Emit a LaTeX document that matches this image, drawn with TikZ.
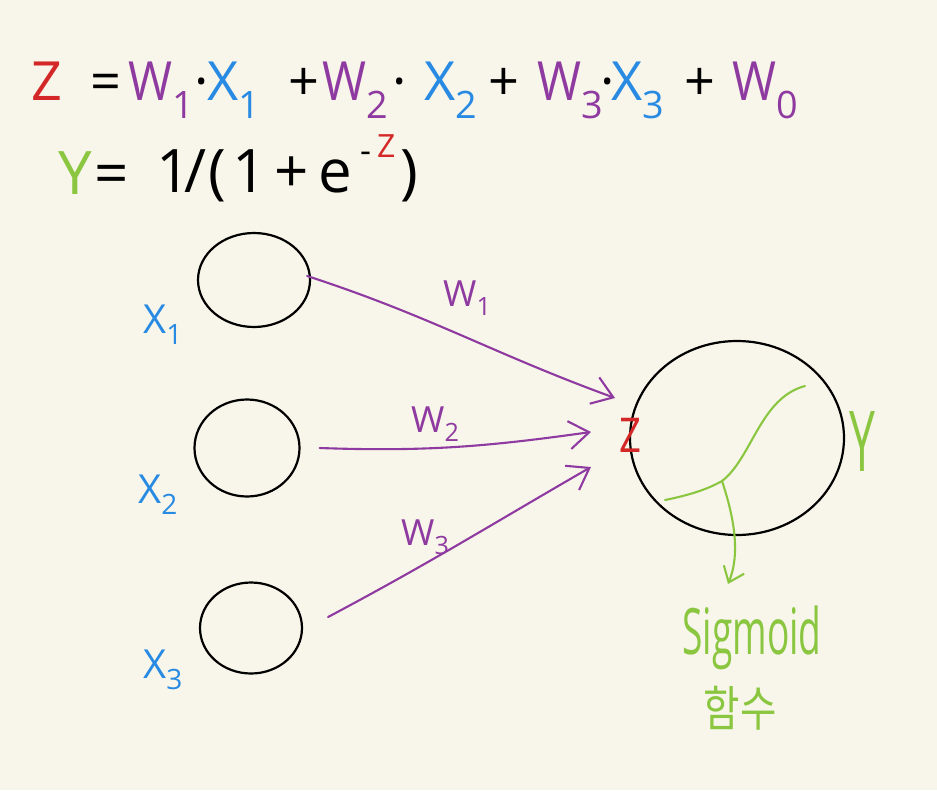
\documentclass[tikz,border=0pt]{standalone}
\usepackage{fontspec}
\setmainfont{Open Sans}
\newfontfamily\kfont{Noto Sans CJK KR}
\usetikzlibrary{shapes.geometric,arrows.meta}
\definecolor{bg}{RGB}{248,246,234}
\definecolor{zred}{RGB}{212,40,40}
\definecolor{wpur}{RGB}{142,58,160}
\definecolor{xblue}{RGB}{40,138,226}
\definecolor{ygreen}{RGB}{138,198,64}
\newcommand{\nW}{\scalebox{0.88}[1]{W}}
\begin{document}
\begin{tikzpicture}[x=1pt,y=-1pt,
  neuron/.style={ellipse,draw=black,line width=2.2pt,inner sep=0pt},
  wire/.style={draw=wpur,line width=2.1pt,line cap=round,
    -{Straight Barb[length=20pt,width=28pt,line width=2.1pt]}},
  greenline/.style={draw=ygreen,line width=2.1pt,line cap=round},
  fa/.style={font=\fontsize{54}{58}\selectfont,inner sep=0pt,anchor=base west},
  fb/.style={font=\fontsize{60}{64}\selectfont,inner sep=0pt,anchor=base west},
  lbl/.style={font=\fontsize{40}{44}\selectfont,inner sep=0pt,anchor=base west,text=xblue},
  wlbl/.style={font=\fontsize{36}{40}\selectfont,inner sep=0pt,anchor=base west,text=wpur}]
\fill[bg] (0,0) rectangle (937,790);
\useasboundingbox (0,0) rectangle (937,790);

% formula 1
\node[fa,text=zred] (a1) at (31,100) {Z};
\node[fa] (a2) at (90,100) {=};
\node[fa,text=wpur] (a3) at (128,100) {\nW\textsubscript{1}};
\node[fa] (a4) at (194,100) {·};
\node[fa,text=xblue] (a5) at (207,100) {X\textsubscript{1}};
\node[fa] (a6) at (288,100) {+};
\node[fa,text=wpur] (a7) at (322,100) {\nW\textsubscript{2}};
\node[fa] (a8) at (392,100) {·};
\node[fa,text=xblue] (a9) at (424,100) {X\textsubscript{2}};
\node[fa] (a10) at (488,100) {+};
\node[fa,text=wpur] (a11) at (537,100) {\nW\textsubscript{3}};
\node[fa] (a12) at (600,100) {·};
\node[fa,text=xblue] (a13) at (611,100) {X\textsubscript{3}};
\node[fa] (a14) at (684,100) {+};
\node[fa,text=wpur] (a15) at (732,100) {\nW\textsubscript{0}};

% formula 2
\node[fb,text=ygreen] (b1) at (58,194) {Y};
\node[fb] (b2) at (94,194) {=};
\node[fb] (b3) at (156,192) {1};
\node[fb] (b4) at (184,192) {/};
\node[fb] (b5) at (208,192) {(};
\node[fb] (b6) at (232,192) {1};
\node[fb] (b7) at (274,192) {+};
\node[fb] (b8) at (318,192) {e};
\node[font=\fontsize{34}{38}\selectfont,inner sep=0pt,anchor=base west] (b9) at (360,162) {-};
\node[font=\fontsize{32}{36}\selectfont,inner sep=0pt,anchor=base west,text=zred] (b10) at (377,157) {Z};
\node[fb] (b11) at (400,192) {)};

% input neurons
\node[neuron,minimum width=112pt,minimum height=94pt] (x1) at (254,280) {};
\node[neuron,minimum width=105pt,minimum height=97pt] (x2) at (247,448) {};
\node[neuron,minimum width=102pt,minimum height=91pt] (x3) at (251,628) {};
% output neuron
\node[neuron,minimum width=214pt,minimum height=194pt] (out) at (737,438) {};

% input labels
\node[lbl] (lx1) at (143,333) {X\textsubscript{1}};
\node[lbl] (lx2) at (138,503) {X\textsubscript{2}};
\node[lbl] (lx3) at (143,678) {X\textsubscript{3}};

% z and y labels
\node[inner sep=0pt,font=\fontsize{48}{50}\selectfont,text=zred] (z) at (630,435) {\scalebox{0.8}[1]{Z}};
\node[inner sep=0pt,font=\fontsize{84}{90}\selectfont,text=ygreen] (y) at (862,442) {\scalebox{0.55}[1]{Y}};

% arrow ends
\coordinate (e1) at (615,398);
\coordinate (e2) at (591,432);
\coordinate (e3) at (591,467);

% connectors
\draw[wire] ([shift={(-4,-4)}]x1.east) to[out=-18,in=160] (e1);
\draw[wire] ([xshift=19pt]x2.east) to[out=-2,in=188] (e2);
\draw[wire] ([xshift=25pt,yshift=11pt]x3.east) to[out=28,in=-150] (e3);

% weight labels
\node[wlbl] (w1) at (443,306) {W\textsubscript{1}};
\node[wlbl] (w2) at (411,432) {W\textsubscript{2}};
\node[wlbl] (w3) at (401,545) {W\textsubscript{3}};

% sigmoid sketch
\coordinate (k) at (722,481);
\draw[greenline] (665,500) .. controls (690,495) and (708,489) .. (k)
  .. controls (752,458) and (760,398) .. (805,386);
\draw[greenline,-{Straight Barb[length=14pt,width=22pt,line width=2.1pt]}]
  (k) .. controls (735,520) and (740,555) .. (728,584);

\node[inner sep=0pt,font=\fontsize{64}{66}\selectfont,text=ygreen] (sig) at (752,638) {\scalebox{0.58}[1]{Sigmoid}};
\node[inner sep=0pt,font=\kfont\fontsize{44}{46}\selectfont,text=ygreen] (ham) at (740,708) {\scalebox{0.9}[1.1]{함수}};
\end{tikzpicture}
\end{document}
